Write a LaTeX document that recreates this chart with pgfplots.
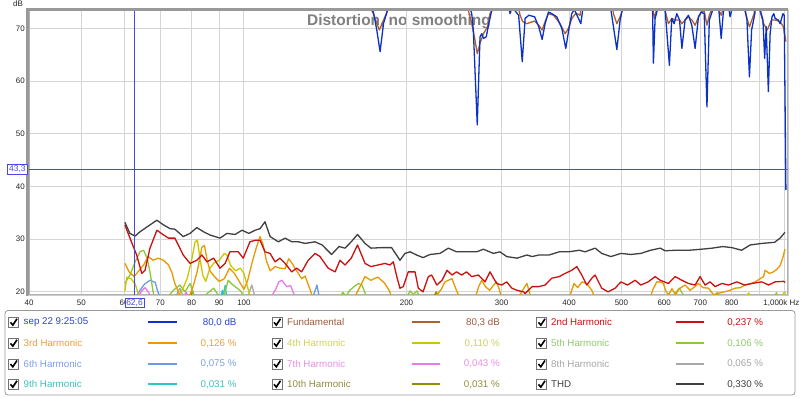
\documentclass[border=0pt]{standalone}
\usepackage{pgfplots}
\pgfplotsset{compat=1.18}
\usepackage{fontspec}
\setmainfont{Liberation Sans}
\definecolor{cBlue}{HTML}{0A32C8}
\definecolor{tBlue}{HTML}{2846C8}
\definecolor{cBrown}{HTML}{B0602A}
\definecolor{tBrown}{HTML}{A05A3C}
\definecolor{cRed}{HTML}{CC1010}
\definecolor{cOrange}{HTML}{E89A00}
\definecolor{tOrange}{HTML}{E8A040}
\definecolor{cYellow}{HTML}{C8C800}
\definecolor{tYellow}{HTML}{D0D060}
\definecolor{cGreen}{HTML}{8CC83C}
\definecolor{tGreen}{HTML}{90C870}
\definecolor{cLBlue}{HTML}{6A9AE8}
\definecolor{tLBlue}{HTML}{7CA0E8}
\definecolor{cPink}{HTML}{E87AE8}
\definecolor{tPink}{HTML}{E890E8}
\definecolor{cGray}{HTML}{A8A8A8}
\definecolor{cCyan}{HTML}{28C8C8}
\definecolor{tCyan}{HTML}{40C0C0}
\definecolor{cOlive}{HTML}{909000}
\definecolor{tOlive}{HTML}{909040}
\definecolor{cTHD}{HTML}{404040}
\definecolor{cGrid}{HTML}{D4D4D4}
\definecolor{cCursor}{HTML}{4848E8}
\newcommand{\chk}[2]{%
  \draw[fill=white,draw=black!55] (#1,#2-5) rectangle (#1+10,#2+5);
  \draw[line width=1.6bp,black] (#1+2,#2) -- (#1+4.3,#2+2.8) -- (#1+8.5,#2-3.5);}
\begin{document}
\begin{tikzpicture}[x=1bp,y=-1bp]
\path[use as bounding box, fill=white] (0,0) rectangle (800,397);
% title (under the curves)
\node[anchor=base west, inner sep=0pt, text=black!50, font=\fontsize{15.5}{16}\selectfont\bfseries] at (307,25) {Distortion, no smoothing};
\begin{axis}[at={(29bp,-294.5bp)}, anchor=south west, scale only axis,
  width=758.5bp, height=284bp,
  xmode=log, xmin=40, xmax=1015, ymin=19.5, ymax=73.4,
  axis line style={draw=black!30},
  grid=major, major grid style={cGrid, line width=0.9bp},
  major tick length=0pt, minor tick num=0,
  xtick={40,50,60,70,80,90,100,200,300,400,500,600,700,800,900,1000},
  xticklabels={40,50,60,70,80,90,100,200,300,400,500,600,700,800,,},
  ytick={20,30,40,50,60,70},
  /pgf/number format/assume math mode=true,
  ticklabel style={font=\fontsize{8}{9}\selectfont, text=black!85},
  xticklabel style={anchor=north, inner sep=0pt, yshift=-5bp},
  yticklabel style={anchor=east, inner sep=0pt, xshift=-4bp},
  log ticks with fixed point,
  every axis plot/.append style={line width=1.3bp, line join=round},
  clip=true]
% 10th
\addplot[cOlive] coordinates {(79.5,18.8)(80.3,20.3)(81,18.8)(224,18.8)(227,20.0)(230,18.8)};
% 9th
\addplot[cCyan] coordinates {(90.5,18.8)(91.2,20.3)(91.6,19.4)(92.3,21.2)(93,18.8)};
% 8th
\addplot[cGray] coordinates {(74.5,18.8)(76.1,20.7)(77.5,18.8)(101.5,18.8)(103.4,21.3)(105,18.8)};
% 7th
\addplot[cPink] coordinates {(63.5,18.8)(64.7,20.2)(65.6,20.8)(66.5,20.0)(67.5,18.8)(77,18.8)(78.2,19.9)(79.3,18.8)(112,18.8)(114.5,20.5)(116,21.9)(117.5,22.2)(120,21.0)(122,21.2)(123.5,19.8)(125,18.8)};
% 6th
\addplot[cLBlue] coordinates {(63.0,18.8)(64.2,20.3)(65.5,21.5)(67.0,22.2)(68.5,21.8)(69.2,20.2)(70,18.8)(134,18.8)(136.5,21.3)(138,18.8)};
% 5th
\addplot[cGreen] coordinates {(60.2,21.6)(61.5,23.2)(62.9,25.7)(64.2,27.6)(65.2,27.9)(66.2,26.4)(67.0,23.8)(67.9,20.0)(68.5,18.8)(72,18.8)(74.0,20.3)(76.1,21.3)(77.8,20.0)(79.5,21.6)(81.2,18.8)(84,18.8)(85.5,19.7)(87.9,20.7)(89.5,19.5)(91,18.8)(92,19.5)(93.5,22.2)(95.4,21.3)(98.3,20.3)(100,19.3)(101,18.8)(150,18.8)(152.5,19.9)(154.5,19.2)(157,20.3)(160,21)(163,21.6)(165.4,21.3)(168,19.5)(170,18.8)(200,18.8)(203,20.2)(206,19.5)(209,20.2)(212,18.8)(620,18.8)(628,19.7)(640,20.7)(650,19.5)(655,18.8)(745,18.8)(752,19.9)(760,18.8)(960,18.8)(968,19.9)(975,18.8)};
% 4th
\addplot[cYellow] coordinates {(60.2,20.2)(60.7,22.8)(61.8,22.5)(62.9,21.5)(63.8,19.5)(64.5,18.8)(75,18.8)(77,20.5)(78.5,22.5)(80,26)(81.2,29.5)(82,29.8)(83,26)(84,23)(85,22)(86.5,24.5)(88,25.5)(90,26)(92,27.3)(93,27.0)(94.5,25)(96.5,24)(98.5,24.5)(100,23.5)(101.5,21)(103,18.8)(850,18.8)(860,19.8)(870,18.8)(990,18.8)(1000,19.9)(1008,19.8)};
% 3rd
\addplot[cOrange] coordinates {(60.2,25.4)(61.3,23.8)(62.6,22.9)(64.0,24.1)(65.2,25.1)(66.5,26.7)(67.9,26.0)(69.4,26.4)(71.0,26.0)(72.5,25.1)(73.5,23.8)(74.5,21.6)(75.6,20.0)(76.5,18.8)(79,18.8)(80.5,21)(82,24)(83.6,28.5)(84.5,28.8)(85.5,26)(86.5,24)(88,23)(90,22)(92,22.5)(94,24.5)(96,23.5)(98,22)(100,20.5)(101.5,22)(103.5,25.5)(105.5,28.5)(107.1,30.5)(108.5,29)(110,26)(111.8,24.0)(114.2,24.8)(116.6,24.5)(119.2,24.4)(121,26.3)(122.6,25.5)(125.2,24.0)(127.9,22.5)(129.8,23.0)(132,21)(134,19)(135,18.8)(160,18.8)(167.6,22.9)(171.8,22.2)(177,22.8)(182,21.7)(186,20.2)(188,18.8)(225,18.8)(232,20.5)(235.5,21.9)(242.8,22.5)(247,20.5)(251,18.8)(268,18.8)(272,21)(275.7,22.2)(280,21)(285,20.3)(290,21.3)(293.7,21.9)(297,20.5)(300,18.8)(322,18.8)(328,20.3)(334.2,21.6)(338,19.8)(341,18.8)(400,18.8)(408.5,21.6)(415,20.8)(422.5,21.9)(431,21.6)(440.7,20.3)(447,18.8)(565,18.8)(572,20.5)(581.4,21.9)(589.6,21.9)(598,21.6)(605,20)(612,19.5)(620,20.6)(630,19.5)(640,20.6)(655.9,21.3)(670,20.3)(684,21.0)(694.4,21.6)(708,20.8)(724.7,20.7)(740,19.5)(760,19.8)(790,20.2)(811.8,20.7)(830,20.8)(847.1,21.3)(865,21.5)(884,21.9)(900,22.4)(916.5,22.9)(922.5,24.1)(940,23.5)(955.8,23.8)(970,24.3)(983.4,25.0)(995,26.5)(1004,28.1)};
% 2nd
\addplot[cRed] coordinates {(60.2,32.7)(61.9,29.5)(63.3,27.0)(64.7,23.5)(65.6,24.1)(67.0,28.3)(69.0,31.7)(71.0,30.8)(72.5,30.2)(74.5,30.2)(76.1,28.3)(77.2,27.0)(79.5,25.4)(81.8,26.0)(83.6,27.0)(85.4,25.7)(87.9,26.4)(90.3,24.5)(92.3,25.4)(94.2,27.6)(97.6,27.6)(99.7,26.4)(102.6,29.5)(104.9,29.8)(107.1,29.8)(109.4,27.6)(111.8,27.3)(114.2,25.7)(116.6,26.4)(119.2,25.4)(122.6,23.8)(125.2,24.5)(127.9,23.8)(131.5,26.0)(135.4,27.3)(138.3,26.7)(143.2,24.5)(147.5,23.8)(150.6,26.0)(153.9,25.1)(158.0,26.4)(162.3,28.9)(167.6,25.4)(171.8,24.8)(177.1,25.1)(182.5,25.4)(186.4,25.1)(189.1,25.7)(191.9,22.9)(194.5,20.7)(197.3,21.0)(201.5,23.8)(207.4,23.8)(210.3,20.7)(214.6,20.0)(219.5,22.9)(222.6,23.2)(227.6,21.3)(232.7,22.2)(237.7,24.1)(242.8,23.2)(247.6,23.8)(253.0,23.2)(258.4,23.8)(264.0,22.9)(271.7,23.2)(279.5,21.9)(285.5,23.8)(293.7,21.6)(300.1,21.3)(306.6,21.9)(313.4,20.7)(320.3,20.3)(329.4,20.0)(331.6,19.7)(341.7,21.0)(351.5,21.0)(361.1,21.3)(371.6,22.6)(383.5,22.9)(393.2,23.5)(404.6,24.1)(413.3,24.8)(422.2,23.2)(431.3,21.3)(440.7,22.6)(446.9,23.2)(459.7,20.7)(472.4,20.0)(486.7,20.7)(498.9,21.9)(513.0,21.3)(530.0,22.2)(543.0,21.3)(560.3,21.9)(577.2,22.9)(590.0,22.2)(610.8,21.6)(628.6,22.9)(646.9,22.2)(665.3,21.6)(684.5,21.3)(699.2,22.9)(714.3,21.3)(729.7,21.9)(745.4,21.0)(767.6,21.6)(789.6,21.3)(818.0,21.9)(845.0,21.3)(872.0,21.6)(910,21.9)(936,21.3)(962.7,21.9)(998,22.0)(1005,21.8)};
% THD
\addplot[cTHD] coordinates {(60.2,33.2)(61.5,31.1)(62.9,30.6)(64.2,31.4)(66.1,32.3)(69.0,33.6)(71.0,32.7)(73.0,32.0)(74.5,31.9)(77.2,30.5)(79.5,31.1)(81.8,32.2)(84.2,31.4)(86.5,30.8)(90.3,30.2)(93.0,31.1)(96.3,30.9)(99.2,31.7)(102.1,31.1)(104.9,31.7)(107.1,32.0)(109.4,33.3)(111.8,30.5)(115.8,29.5)(119.2,30.2)(122.6,29.5)(126.1,29.5)(129.8,29.2)(135.4,29.5)(139.6,28.9)(145.3,27.1)(150.0,28.6)(153.9,28.3)(158.0,29.5)(162.3,30.9)(167.6,29.2)(171.8,28.3)(180.0,28.4)(187.7,28.4)(194.5,26.0)(198.7,27.3)(203.0,27.6)(208.8,27.0)(214.6,26.5)(221.1,27.1)(230.7,27.3)(239.0,28.3)(247.6,27.6)(258.4,27.6)(269.7,27.6)(277.5,28.1)(289.6,27.3)(297.9,27.6)(306.6,26.7)(320.3,26.4)(334.2,27.0)(341.7,26.7)(351.5,27.0)(367.3,27.0)(383.5,27.6)(399.0,27.6)(418.0,27.9)(428.2,27.6)(446.9,28.3)(459.7,27.3)(478.0,26.7)(498.9,27.3)(520.5,27.1)(543.0,27.3)(566.1,27.9)(590.0,28.3)(602.3,27.8)(628.6,27.9)(667.3,27.9)(703.5,28.1)(736.5,28.3)(769.7,28.6)(800.3,28.4)(834.6,27.9)(865.4,28.9)(910,29.2)(960,29.4)(983.4,30.2)(1004,31.3)};
% Fundamental
\addplot[cBrown] coordinates {(165,77)(173.1,73.1)(178.1,69.7)(184.0,73.1)(190,77)(255,77)(264.1,70.9)(267.8,67.8)(270.4,65.2)(273.6,67.2)(277.6,69.0)(282.6,70.3)(285.5,72.8)(300,77)(318,77)(324.6,72.5)(328.2,71.3)(333.8,70.9)(345.3,71.4)(351.5,70.6)(356.6,69.7)(361.1,71.3)(366.3,72.8)(374.4,72.5)(384.9,70.9)(393.2,69.0)(399.0,70.0)(404.6,71.9)(412.0,72.9)(419.2,72.5)(425,77)(478,77)(483.2,72.8)(490.3,70.9)(497.2,72.2)(500.9,73.2)(510,77)(565,77)(572.5,73.2)(575.5,71.9)(579.5,73.2)(590,77)(600,77)(603,73.2)(610.8,70.9)(619.7,71.9)(628.6,71.6)(640.5,71.6)(647,70.9)(655.9,71.6)(665.3,72.2)(675,71.6)(684.5,70.6)(694.4,72.2)(704.5,73.2)(712,73.2)(720.0,70.6)(727.3,72.5)(735,73.6)(757,73.6)(765,72.5)(771,73.6)(840,77)(847.1,73.2)(862.9,70.3)(880.1,72.8)(890,77)(898,77)(903.0,73.2)(916.5,70.9)(931.1,69.7)(947.9,71.6)(962.7,71.6)(983.4,71.3)(997.6,70.3)(1008,67.5)};
% Measurement
\addplot[cBlue] coordinates {(165,78)(171.2,74)(173.7,73.1)(176.2,69.7)(178.7,65.6)(181.4,71.0)(184.0,73.1)(186.4,76)(255,78)(264.1,72.8)(265.9,69.7)(270.4,51.7)(273.6,68.4)(275.7,69.0)(277.6,68.1)(281.0,68.4)(284.0,70.9)(287.2,73.1)(295,78)(305,78)(310.9,72.8)(314,74)(322.6,72.5)(327.6,63.7)(331.6,71.9)(337.0,72.5)(345.3,72.2)(351.5,70.3)(356.6,67.9)(361.1,70.9)(366.3,73.1)(371.6,72.8)(379.6,72.2)(387.8,70.0)(394.4,66.2)(399.0,69.4)(404.6,72.8)(409,73.6)(416.2,71.9)(420.5,70.9)(424,73.6)(430,78)(470,78)(479.2,72.8)(490.3,66.0)(497.2,71.6)(500.9,73.1)(508,78)(565,78)(571,73.6)(573.0,63.4)(577.2,71.9)(581.4,73.1)(590,78)(597,78)(602.3,73.6)(613.4,63.0)(619.7,71.9)(625.9,70.9)(633.1,72.8)(640.5,71.6)(647.0,66.2)(655.9,71.6)(665.3,72.5)(675.0,70.6)(684.5,66.2)(694.4,72.2)(702.4,73.1)(711.6,72.8)(720.0,55.1)(727.3,71.6)(735.8,73.1)(750,78)(757.2,73.6)(765.0,68.1)(771.7,72.8)(780,76)(791.2,73.6)(794.6,72.2)(801.0,73.6)(820,78)(847.1,73.6)(853.8,71.6)(862.9,60.8)(870.9,69.7)(883.0,72.8)(893,78)(903.0,73.6)(914.0,71.6)(920.8,64.3)(926.8,70.3)(935.4,58.0)(942.4,69.0)(949.9,72.2)(957.3,72.8)(962.7,71.9)(975.6,71.6)(983.4,70.9)(995.3,72.8)(1000.8,72.5)(1008,39.3)};
% cursors
\draw[cCursor, line width=1.1bp] (axis cs:62.6,19.5) -- (axis cs:62.6,73.4);
\draw[cCursor, line width=1.1bp] (axis cs:40,43.3) -- (axis cs:1015,43.3);
\end{axis}
% frame accents
\draw[black!40, line width=3bp] (27.5,296) -- (27.5,9) -- (788,9);
\draw[black!20, line width=0.8bp] (788,9) -- (788,295) -- (28,295);
\node[anchor=north east, inner sep=0pt, font=\fontsize{8}{9}\selectfont, text=black!85] at (799.5,299.5) {1,000k Hz};
\node[anchor=north west, inner sep=0pt, font=\fontsize{8}{9}\selectfont, text=black!85] at (13,0.5) {dB};
% cursor labels
\node[draw=cCursor, fill=white, text=cCursor, inner sep=1.6bp, font=\fontsize{8.5}{9}\selectfont, anchor=east] at (27.5,169.5) {43,3};
\node[draw=cCursor, fill=white, text=cCursor, inner sep=1.4bp, font=\fontsize{8.5}{9}\selectfont, anchor=north] at (134.5,297.5) {62,6};
% legend box
\draw[black!40, rounded corners=3bp, line width=0.8bp] (5,310.5) rectangle (795,395);
\begin{scope}[font=\fontsize{9.8}{11}\selectfont]
\chk{8.5}{322.3}\node[anchor=west,inner sep=0pt,text=tBlue] at (23.5,322.3) {sep 22 9:25:05};
\draw[cBlue,line width=1.8bp] (148,322.3)--(177,322.3);\node[anchor=east,inner sep=0pt,text=tBlue] at (236.7,322.3) {80,0 dB};
\chk{8.5}{343.3}\node[anchor=west,inner sep=0pt,text=tOrange] at (23.5,343.3) {3rd Harmonic};
\draw[cOrange,line width=1.8bp] (148,343.3)--(177,343.3);\node[anchor=east,inner sep=0pt,text=tOrange] at (236.7,343.3) {0,126 \%};
\chk{8.5}{364}\node[anchor=west,inner sep=0pt,text=tLBlue] at (23.5,364) {6th Harmonic};
\draw[cLBlue,line width=1.8bp] (148,364)--(177,364);\node[anchor=east,inner sep=0pt,text=tLBlue] at (236.7,364) {0,075 \%};
\chk{8.5}{384.3}\node[anchor=west,inner sep=0pt,text=tCyan] at (23.5,384.3) {9th Harmonic};
\draw[cCyan,line width=1.8bp] (148,384.3)--(177,384.3);\node[anchor=east,inner sep=0pt,text=tCyan] at (236.7,384.3) {0,031 \%};
\chk{272}{322.3}\node[anchor=west,inner sep=0pt,text=tBrown] at (287,322.3) {Fundamental};
\draw[cBrown,line width=1.8bp] (411.7,322.3)--(440,322.3);\node[anchor=east,inner sep=0pt,text=tBrown] at (500,322.3) {80,3 dB};
\chk{272}{343.3}\node[anchor=west,inner sep=0pt,text=tYellow] at (287,343.3) {4th Harmonic};
\draw[cYellow,line width=1.8bp] (411.7,343.3)--(440,343.3);\node[anchor=east,inner sep=0pt,text=tYellow] at (500,343.3) {0,110 \%};
\chk{272}{364}\node[anchor=west,inner sep=0pt,text=tPink] at (287,364) {7th Harmonic};
\draw[cPink,line width=1.8bp] (411.7,364)--(440,364);\node[anchor=east,inner sep=0pt,text=tPink] at (500,364) {0,043 \%};
\chk{272}{384.3}\node[anchor=west,inner sep=0pt,text=tOlive] at (287,384.3) {10th Harmonic};
\draw[cOlive,line width=1.8bp] (411.7,384.3)--(440,384.3);\node[anchor=east,inner sep=0pt,text=tOlive] at (500,384.3) {0,031 \%};
\chk{536.5}{322.3}\node[anchor=west,inner sep=0pt,text=cRed] at (551,322.3) {2nd Harmonic};
\draw[cRed,line width=1.8bp] (676,322.3)--(704,322.3);\node[anchor=east,inner sep=0pt,text=cRed] at (763.3,322.3) {0,237 \%};
\chk{536.5}{343.3}\node[anchor=west,inner sep=0pt,text=tGreen] at (551,343.3) {5th Harmonic};
\draw[cGreen,line width=1.8bp] (676,343.3)--(704,343.3);\node[anchor=east,inner sep=0pt,text=tGreen] at (763.3,343.3) {0,106 \%};
\chk{536.5}{364}\node[anchor=west,inner sep=0pt,text=cGray] at (551,364) {8th Harmonic};
\draw[cGray,line width=1.8bp] (676,364)--(704,364);\node[anchor=east,inner sep=0pt,text=cGray] at (763.3,364) {0,065 \%};
\chk{536.5}{384.3}\node[anchor=west,inner sep=0pt,text=cTHD] at (551,384.3) {THD};
\draw[cTHD,line width=1.8bp] (676,384.3)--(704,384.3);\node[anchor=east,inner sep=0pt,text=cTHD] at (763.3,384.3) {0,330 \%};
\end{scope}
\end{tikzpicture}
\end{document}
